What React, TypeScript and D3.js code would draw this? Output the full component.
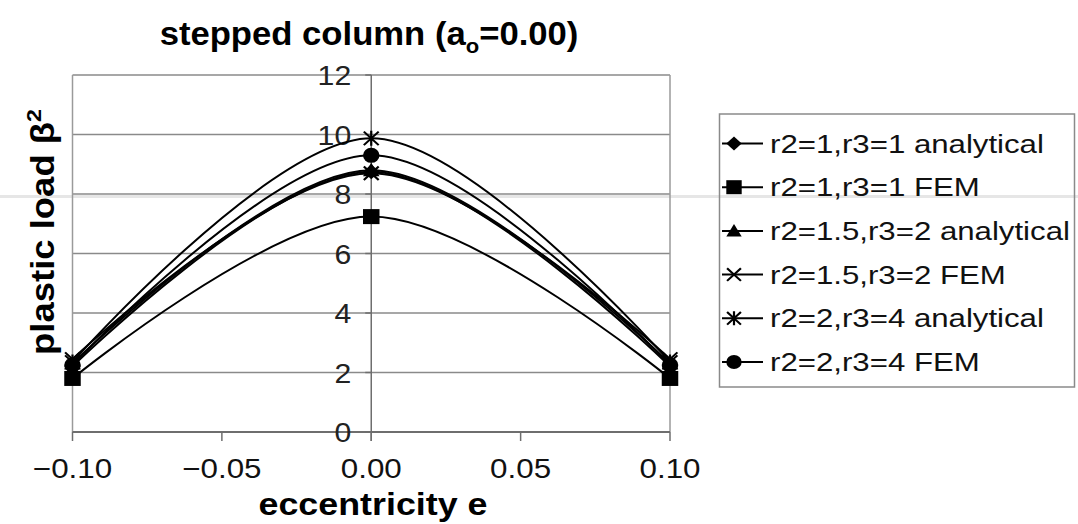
import React from 'react';
import * as d3 from 'd3';

// eccentricity positions of the three points per series
const ecc = [-0.1, 0, 0.1];

const seriesNames = [
    'r2=1,r3=1 analytical',
    'r2=1,r3=1 FEM',
    'r2=1.5,r3=2 analytical',
    'r2=1.5,r3=2 FEM',
    'r2=2,r3=4 analytical',
    'r2=2,r3=4 FEM',
];
const markers = ['diamond', 'square', 'triangle', 'cross', 'star', 'circle'];

// plastic load beta^2 values read at e = -0.10, 0.00, 0.10
const r1Analytical = [2.2, 8.75, 2.2];
const r1Fem = [1.8, 7.24, 1.8];
const r15Analytical = [2.3, 8.8, 2.3];
const r15Fem = [2.45, 8.7, 2.45];
const r2Analytical = [2.35, 9.87, 2.35];
const r2Fem = [2.25, 9.3, 2.25];
const seriesValues = [r1Analytical, r1Fem, r15Analytical, r15Fem, r2Analytical, r2Fem];

const xTicks = [-0.1, -0.05, 0, 0.05, 0.1];
const yTicks = [0, 2, 4, 6, 8, 10, 12];

const FONT = '"Liberation Sans", Arial, Helvetica, sans-serif';
const SX = 1.2; // the picture is stretched horizontally

function Marker({ type, x, y, r }: { type: string; x: number; y: number; r: number }) {
    const t = `translate(${x},${y}) scale(1.1,1)`;
    if (type === 'diamond')
        return <path transform={t} d={`M0,${-r}L${r},0L0,${r}L${-r},0Z`} fill="#000" />;
    if (type === 'square')
        return <rect transform={t} x={-r} y={-r} width={2 * r} height={2 * r} fill="#000" />;
    if (type === 'triangle')
        return <path transform={t} d={`M0,${-r}L${r},${r * 0.8}L${-r},${r * 0.8}Z`} fill="#000" />;
    if (type === 'circle')
        return <circle transform={t} r={r} fill="#000" />;
    const a = r * 0.9;
    const cross = `M${-a},${-a}L${a},${a}M${-a},${a}L${a},${-a}`;
    return (
        <path transform={t} d={type === 'star' ? cross + `M0,${-r}L0,${r}` : cross}
            stroke="#000" strokeWidth={2} fill="none" />
    );
}

export default function App() {
    const width = 1078, height = 524;
    const x = d3.scaleLinear().domain([-0.1, 0.1]).range([72.5, 670]);
    const y = d3.scaleLinear().domain([0, 12]).range([432, 75]);
    const line = d3.line<number>()
        .x((_, i) => x(ecc[i]))
        .y(d => y(d))
        .curve(d3.curveCardinal.tension(0));
    const fmt = d3.format('.2f');
    const legendY = (i: number) => 143.5 + i * 43.7;

    return (
        <svg width={width} height={height} style={{ position: 'absolute', left: 0, top: 0, background: '#fff' }}
            fontFamily={FONT}>
            {/* faint scan stripe */}
            <rect x={0} y={195} width={width} height={3} fill="#e6e6e6" />

            {/* grid */}
            {yTicks.map(t => (
                <line key={t} x1={x(-0.1)} x2={x(0.1)} y1={y(t)} y2={y(t)} stroke="#8a8a8a" strokeWidth={1.5} />
            ))}
            <line x1={x(-0.1)} x2={x(-0.1)} y1={y(12)} y2={y(0)} stroke="#9a9a9a" strokeWidth={1.5} />
            <line x1={x(0.1)} x2={x(0.1)} y1={y(12)} y2={y(0)} stroke="#9a9a9a" strokeWidth={1.5} />

            {/* x axis */}
            <line x1={x(-0.1)} x2={x(0.1)} y1={y(0)} y2={y(0)} stroke="#6e6e6e" strokeWidth={2} />
            {xTicks.map(t => (
                <g key={t}>
                    <line x1={x(t)} x2={x(t)} y1={y(0)} y2={y(0) + 9} stroke="#6e6e6e" strokeWidth={1.5} />
                    <text transform={`translate(${x(t)},478) scale(1.12,1)`} textAnchor="middle" fontSize={28} fill="#111">
                        {fmt(t)}
                    </text>
                </g>
            ))}

            {/* y axis at e = 0 */}
            <line x1={x(0)} x2={x(0)} y1={y(12)} y2={y(0) + 9} stroke="#6e6e6e" strokeWidth={1.5} />
            {yTicks.map(t => (
                <g key={t}>
                    <line x1={x(0) - 6} x2={x(0)} y1={y(t)} y2={y(t)} stroke="#6e6e6e" strokeWidth={1.5} />
                    <text transform={`translate(${x(0) - 20},${y(t) + 10}) scale(1.12,1)`} textAnchor="end" fontSize={27} fill="#222">
                        {t}
                    </text>
                </g>
            ))}

            {/* series */}
            {seriesValues.map((vals, s) => (
                <g key={s}>
                    <path d={line(vals) || ''} fill="none" stroke="#000" strokeWidth={2} />
                    {vals.map((v, i) => (
                        <Marker key={i} type={markers[s]} x={x(ecc[i])} y={y(v)} r={7.5} />
                    ))}
                </g>
            ))}

            {/* titles */}
            <text transform={`translate(369,45) scale(1.05,1)`} textAnchor="middle" fontSize={33} fontWeight="bold" fill="#000">
                stepped column (a<tspan fontSize={21} dy={8}>o</tspan><tspan dy={-8}>=0.00)</tspan>
            </text>
            <text transform={`translate(373,515) scale(1.12,1)`} textAnchor="middle" fontSize={32} fontWeight="bold" fill="#000">
                eccentricity e
            </text>
            <text transform="translate(54,232) rotate(-90)" textAnchor="middle" fontSize={33} fontWeight="bold" fill="#000"
                textLength={246} lengthAdjust="spacingAndGlyphs">
                plastic load β<tspan fontSize={21} dy={-13}>2</tspan>
            </text>

            {/* legend */}
            <rect x={719.5} y={114} width={355} height={273} fill="none" stroke="#8a8a8a" strokeWidth={1.5} />
            {seriesNames.map((name, i) => (
                <g key={name}>
                    <line x1={722} x2={763} y1={legendY(i)} y2={legendY(i)} stroke="#000" strokeWidth={2} />
                    <Marker type={markers[i]} x={734} y={legendY(i)} r={7} />
                    <text transform={`translate(770,${legendY(i) + 9}) scale(${SX},1)`} fontSize={26} fill="#111">
                        {name}
                    </text>
                </g>
            ))}
        </svg>
    );
}
